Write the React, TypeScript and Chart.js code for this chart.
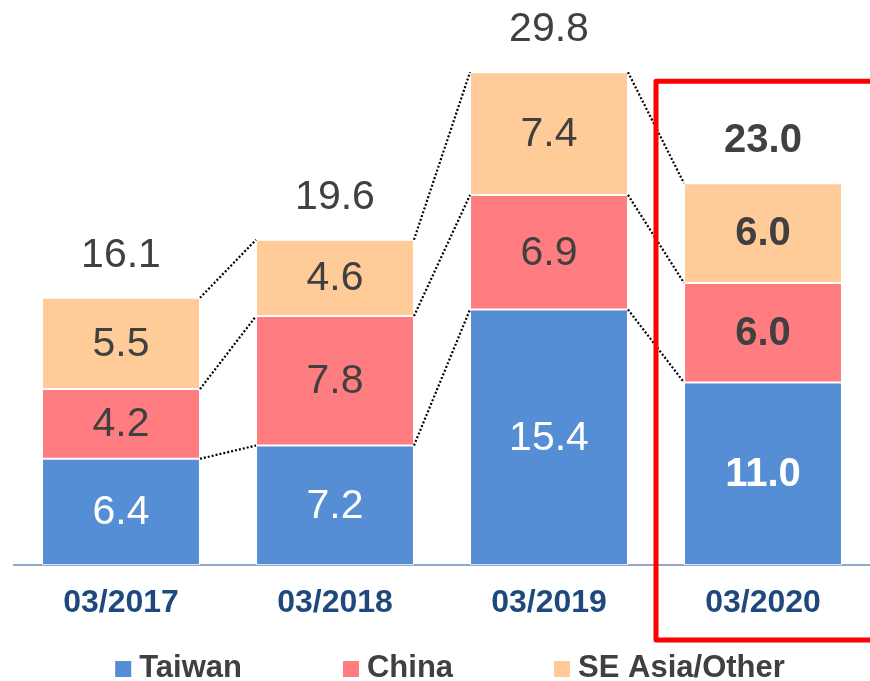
import React, { useEffect, useRef } from "react";
import { Chart, registerables } from "chart.js";

Chart.register(...registerables);

const categories = ["03/2017", "03/2018", "03/2019", "03/2020"];
const taiwan = [6.4, 7.2, 15.4, 11.0];
const china = [4.2, 7.8, 6.9, 6.0];
const seAsiaOther = [5.5, 4.6, 7.4, 6.0];
const totals = [16.1, 19.6, 29.8, 23.0];
const seriesNames = ["Taiwan", "China", "SE Asia/Other"];
const seriesColors = ["#558ED5", "#FF7C80", "#FFCC99"];
const labelColors = ["#FFFFFF", "#404040", "#404040"];
const highlightIndex = 3;
const highlightTopValue = 29.15;
const yMax = 32;

const FONT = "'Liberation Sans', Arial, sans-serif";

const overlayPlugin = {
  id: "overlay",
  afterDatasetsDraw(chart: any) {
    const ctx = chart.ctx as CanvasRenderingContext2D;
    const metas = chart.data.datasets.map((_: any, i: number) => chart.getDatasetMeta(i));

    // dotted connectors between adjacent bars
    ctx.save();
    ctx.strokeStyle = "#000000";
    ctx.lineWidth = 2.2;
    ctx.setLineDash([2, 2]);
    for (let j = 0; j < categories.length - 1; j++) {
      metas.forEach((m: any) => {
        const a = m.data[j];
        const b = m.data[j + 1];
        ctx.beginPath();
        ctx.moveTo(a.x + a.width / 2, a.y);
        ctx.lineTo(b.x - b.width / 2, b.y);
        ctx.stroke();
      });
    }
    ctx.restore();

    // segment labels
    ctx.save();
    ctx.textAlign = "center";
    ctx.textBaseline = "middle";
    metas.forEach((m: any, i: number) => {
      const values = chart.data.datasets[i].data as number[];
      m.data.forEach((el: any, j: number) => {
        const bold = j === highlightIndex;
        ctx.font = `${bold ? "bold " : ""}${bold ? 40 : 41}px ${FONT}`;
        ctx.fillStyle = labelColors[i];
        ctx.fillText(values[j].toFixed(1), el.x, (el.y + el.base) / 2 + 1);
      });
    });

    // totals
    const topMeta = metas[metas.length - 1];
    topMeta.data.forEach((el: any, j: number) => {
      const bold = j === highlightIndex;
      ctx.font = `${bold ? "bold " : ""}${bold ? 40 : 41}px ${FONT}`;
      ctx.fillStyle = "#404040";
      ctx.fillText(totals[j].toFixed(1), el.x, el.y - 42);
    });
    ctx.restore();
  },
  afterDraw(chart: any) {
    const ctx = chart.ctx as CanvasRenderingContext2D;
    const area = chart.chartArea;
    const meta = chart.getDatasetMeta(0);
    const prev = meta.data[highlightIndex - 1];
    const cur = meta.data[highlightIndex];

    // red highlight frame
    const left = (prev.x + cur.x) / 2;
    const top = chart.scales.y.getPixelForValue(highlightTopValue);
    const bottom = area.bottom + 75;
    const right = chart.width + 20;
    ctx.save();
    ctx.strokeStyle = "#FF0000";
    ctx.lineWidth = 5;
    ctx.lineJoin = "round";
    ctx.setLineDash([]);
    ctx.beginPath();
    ctx.moveTo(right, top);
    ctx.lineTo(left, top);
    ctx.lineTo(left, bottom);
    ctx.lineTo(right, bottom);
    ctx.stroke();
    ctx.restore();

    // legend
    ctx.save();
    ctx.font = `bold 31px ${FONT}`;
    ctx.textBaseline = "alphabetic";
    ctx.textAlign = "left";
    const box = 16;
    const boxGap = 8;
    const itemGap = 101;
    const widths = seriesNames.map((n) => ctx.measureText(n).width);
    const total = widths.reduce((s, w) => s + box + boxGap + w, 0) + itemGap * (seriesNames.length - 1);
    const centerX = (area.left + area.right) / 2 + 8;
    let x = centerX - total / 2;
    const baseline = chart.height - 4;
    seriesNames.forEach((name, i) => {
      ctx.fillStyle = seriesColors[i];
      ctx.fillRect(x, baseline - box, box, box);
      ctx.fillStyle = "#404040";
      ctx.fillText(name, x + box + boxGap, baseline);
      x += box + boxGap + widths[i] + itemGap;
    });
    ctx.restore();
  },
};

export default function App() {
  const canvasRef = useRef<HTMLCanvasElement | null>(null);

  useEffect(() => {
    if (!canvasRef.current) return;
    const seriesData = [taiwan, china, seAsiaOther];
    const chart = new Chart(canvasRef.current, {
      type: "bar",
      data: {
        labels: categories,
        datasets: seriesNames.map((name, i) => ({
          label: name,
          data: seriesData[i],
          backgroundColor: seriesColors[i],
          borderColor: "rgba(255,255,255,0.7)",
          borderWidth: 1,
          borderSkipped: false,
          barPercentage: 0.738,
          categoryPercentage: 1,
        })),
      },
      options: {
        animation: false,
        responsive: true,
        maintainAspectRatio: false,
        layout: { padding: { left: 14, right: 0, top: 34, bottom: 0 } },
        plugins: {
          legend: { display: false },
          tooltip: { enabled: false },
        },
        scales: {
          x: {
            stacked: true,
            grid: { display: false, drawTicks: false },
            border: { display: true, color: "#94A9C6", width: 2 },
            ticks: {
              color: "#1F497D",
              font: { family: FONT, size: 32, weight: "bold" },
              padding: 19,
              maxRotation: 0,
              autoSkip: false,
            },
            afterFit: (scale: any) => {
              scale.height = 116;
            },
          },
          y: {
            stacked: true,
            display: false,
            min: 0,
            max: yMax,
          },
        },
      },
      plugins: [overlayPlugin],
    });
    return () => chart.destroy();
  }, []);

  return (
    <div style={{ position: "fixed", left: 0, top: 0, width: 870, height: 681, background: "#FFFFFF" }}>
      <canvas ref={canvasRef} />
    </div>
  );
}
